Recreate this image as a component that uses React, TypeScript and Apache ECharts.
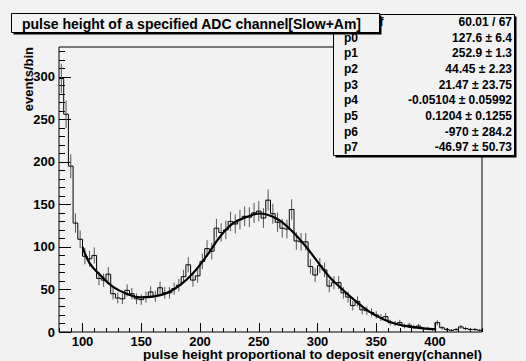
import React, { useEffect, useRef } from "react";
import * as echarts from "echarts";

// Histogram: bin lower edge starts at 80, width 4 (90 bins up to 440)
const BIN_START = 80;
const BIN_WIDTH = 4;
const COUNTS = [
  298, 256, 195, 128, 109, 89, 86, 90, 63, 61,
  68, 45, 40, 39, 49, 45, 39, 38, 41, 47,
  42, 52, 46, 46, 51, 55, 65, 79, 61, 66,
  83, 98, 95, 122, 117, 120, 130, 127, 132, 136,
  135, 140, 142, 134, 155, 139, 129, 122, 121, 144,
  107, 106, 106, 77, 67, 78, 73, 54, 58, 58,
  46, 41, 31, 36, 26, 25, 23, 20, 17, 18,
  11, 10, 11, 7, 8, 6, 7, 4, 4, 3,
  11, 5, 3, 2, 3, 6, 4, 3, 3, 2,
];

// Fit curve
const FIT_X = [100, 106, 115, 126, 138, 149, 160, 172, 183, 194, 206, 217, 228, 240, 251, 265, 276, 288, 299, 310, 322, 333, 344, 356, 367, 378, 390, 401];
const FIT_Y = [100, 81, 67, 53, 44.6, 40.7, 41.5, 46, 55, 69, 90, 112, 127.6, 135.4, 139.3, 133.5, 121.7, 104, 84.5, 65, 49, 35.6, 24, 15, 9.4, 6.3, 4.3, 3.1];

// Axes
const X_MIN = 80;
const X_MAX = 440;
const Y_MIN = 0;
const Y_MAX = 335;
const X_TICKS = [100, 150, 200, 250, 300, 350, 400];
const Y_TICKS = [0, 50, 100, 150, 200, 250, 300];

// Stats box
const STAT_LABELS = ["\u03c7\u00b2 / ndf", "p0", "p1", "p2", "p3", "p4", "p5", "p6", "p7"];
const STAT_VALUES = [
  "60.01 / 67",
  "127.6 \u00b1 6.4",
  "252.9 \u00b1 1.3",
  "44.45 \u00b1 2.23",
  "21.47 \u00b1 23.75",
  "-0.05104 \u00b1 0.05992",
  "0.1204 \u00b1 0.1255",
  "-970 \u00b1 284.2",
  "-46.97 \u00b1 50.73",
];

const TITLE = "pulse height of a specified ADC channel[Slow+Am]";
const X_TITLE = "pulse height proportional to deposit energy(channel)";
const Y_TITLE = "events/bin";

const FONT = '"Liberation Sans", Arial, Helvetica, sans-serif';
const BG = "#f2f2f2";

function minorTicks(min: number, max: number, step: number) {
  const out: number[] = [];
  for (let v = min; v <= max + 1e-9; v += step) out.push(v);
  return out;
}

export default function App() {
  const ref = useRef<HTMLDivElement>(null);
  useEffect(() => {
    document.body.style.margin = "0";
    if (!ref.current) return;
    const chart = echarts.init(ref.current, undefined, { renderer: "svg" });

    const stepData: number[][] = COUNTS.map((c, i) => [BIN_START + BIN_WIDTH * i, c]);
    stepData.push([BIN_START + BIN_WIDTH * COUNTS.length, COUNTS[COUNTS.length - 1]]);
    const errData = COUNTS.map((c, i) => [BIN_START + BIN_WIDTH * (i + 0.5), c, Math.sqrt(c)]);
    const fitData = FIT_X.map((x, i) => [x, FIT_Y[i]]);

    const axisLabelStyle = {
      fontFamily: FONT,
      fontWeight: "bold" as const,
      fontSize: 13,
      lineHeight: 11,
      color: "#000",
    };

    const rowTop = 14;
    const rowH = 15.67;
    const statTexts: any[] = [];
    STAT_LABELS.forEach((lab, k) => {
      const y = rowTop + rowH * (k + 0.5);
      statTexts.push({
        type: "text",
        x: 344,
        y,
        z: 101,
        style: { text: lab, font: `bold 12px ${FONT}`, fill: "#000", align: "left", verticalAlign: "middle" },
      });
      statTexts.push({
        type: "text",
        x: 512,
        y,
        z: 101,
        style: { text: STAT_VALUES[k], font: `bold 12px ${FONT}`, fill: "#000", align: "right", verticalAlign: "middle" },
      });
    });

    chart.setOption({
      animation: false,
      backgroundColor: BG,
      grid: {
        left: 59,
        right: 44,
        top: 47,
        bottom: 29,
        show: true,
        borderColor: "#000",
        borderWidth: 1,
        backgroundColor: BG,
      },
      xAxis: [
        {
          type: "value",
          min: X_MIN,
          max: X_MAX,
          position: "bottom",
          axisLine: { show: false },
          splitLine: { show: false },
          axisLabel: { show: false, customValues: minorTicks(X_MIN, X_MAX, 10) },
          axisTick: { show: true, inside: true, length: 4, customValues: minorTicks(X_MIN, X_MAX, 10), lineStyle: { color: "#000", width: 1 } },
        },
        {
          type: "value",
          min: X_MIN,
          max: X_MAX,
          position: "bottom",
          axisLine: { show: false },
          splitLine: { show: false },
          axisLabel: { show: true, customValues: X_TICKS, margin: 4, ...axisLabelStyle },
          axisTick: { show: true, inside: true, length: 9, customValues: X_TICKS, lineStyle: { color: "#000", width: 1 } },
        },
      ],
      yAxis: [
        {
          type: "value",
          min: Y_MIN,
          max: Y_MAX,
          position: "left",
          axisLine: { show: false },
          splitLine: { show: false },
          axisLabel: { show: false, customValues: minorTicks(0, 330, 10) },
          axisTick: { show: true, inside: true, length: 6, customValues: minorTicks(0, 330, 10), lineStyle: { color: "#000", width: 1 } },
        },
        {
          type: "value",
          min: Y_MIN,
          max: Y_MAX,
          position: "left",
          axisLine: { show: false },
          splitLine: { show: false },
          axisLabel: { show: true, customValues: Y_TICKS, margin: 4, ...axisLabelStyle },
          axisTick: { show: true, inside: true, length: 12, customValues: Y_TICKS, lineStyle: { color: "#000", width: 1 } },
        },
      ],
      series: [
        {
          type: "custom",
          xAxisIndex: 1,
          yAxisIndex: 1,
          data: errData,
          clip: true,
          renderItem: (params: any, api: any) => {
            const x = api.value(0);
            const v = api.value(1);
            const e = api.value(2);
            const p1 = api.coord([x, v - e]);
            const p2 = api.coord([x, v + e]);
            return {
              type: "line",
              shape: { x1: p1[0], y1: p1[1], x2: p2[0], y2: p2[1] },
              style: { stroke: "#555", lineWidth: 1 },
            };
          },
          z: 2,
        },
        {
          type: "line",
          xAxisIndex: 1,
          yAxisIndex: 1,
          data: stepData,
          step: "end",
          symbol: "none",
          lineStyle: { color: "#000", width: 1 },
          z: 3,
        },
        {
          type: "line",
          xAxisIndex: 1,
          yAxisIndex: 1,
          data: fitData,
          smooth: 0.4,
          symbol: "none",
          lineStyle: { color: "#000", width: 2.2 },
          z: 4,
        },
      ],
      graphic: [
        {
          type: "text",
          x: 28,
          y: 47,
          rotation: Math.PI / 2,
          style: { text: Y_TITLE, font: `bold 13px ${FONT}`, fill: "#000", align: "right", verticalAlign: "middle" },
        },
        {
          type: "text",
          x: 482,
          y: 354,
          style: { text: X_TITLE, font: `bold 13.5px ${FONT}`, lineHeight: 12, fill: "#000", align: "right", verticalAlign: "middle" },
        },
        // stats box
        { type: "rect", z: 100, shape: { x: 335.5, y: 16.5, width: 181, height: 141 }, style: { fill: "#000" } },
        { type: "rect", z: 100, shape: { x: 333.5, y: 14.5, width: 181, height: 141 }, style: { fill: BG, stroke: "#000", lineWidth: 1 } },
        ...statTexts,
        // title box
        { type: "rect", z: 110, shape: { x: 13.5, y: 15.5, width: 368, height: 19 }, style: { fill: "#000" } },
        { type: "rect", z: 110, shape: { x: 11.5, y: 13.5, width: 368, height: 19 }, style: { fill: BG, stroke: "#000", lineWidth: 1 } },
        {
          type: "text",
          z: 111,
          x: 22,
          y: 23.5,
          style: { text: TITLE, font: `bold 14px ${FONT}`, fill: "#000", align: "left", verticalAlign: "middle" },
        },
      ],
    });
    return () => chart.dispose();
  }, []);
  return <div ref={ref} style={{ width: 526, height: 361 }} />;
}
